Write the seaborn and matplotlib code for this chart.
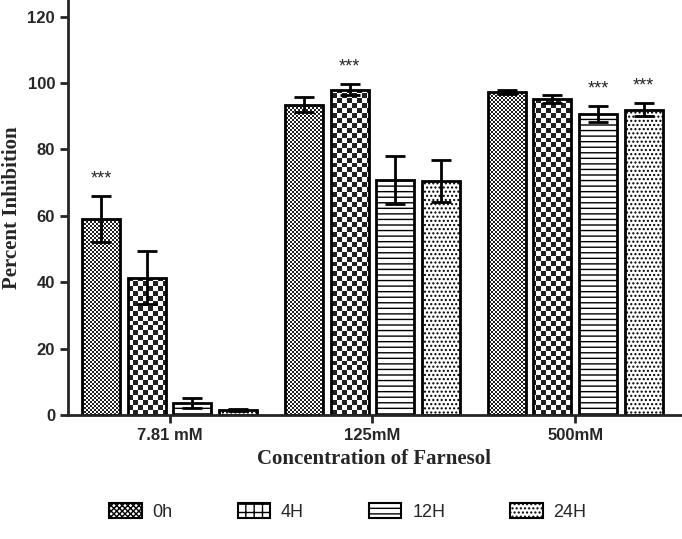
import numpy as np
import pandas as pd
import seaborn as sns
import matplotlib.pyplot as plt
from matplotlib.patches import Patch

# ----------------------------------------- data -----------------------------------------
concentrations = ['7.81 mM', '125mM', '500mM']
times = ['0h', '4H', '12H', '24H']
inhibition_0h = [59.0, 93.5, 97.3]
inhibition_4h = [41.3, 98.0, 95.2]
inhibition_12h = [3.6, 70.9, 90.7]
inhibition_24h = [1.5, 70.5, 92.0]
sem_0h = [7.0, 2.3, 0.5]
sem_4h = [8.0, 1.7, 1.3]
sem_12h = [1.6, 7.2, 2.4]
sem_24h = [0.3, 6.4, 2.0]
stars_0h = ['***', '', '']
stars_4h = ['', '***', '']
stars_12h = ['', '', '***']
stars_24h = ['', '', '***']

values = [inhibition_0h, inhibition_4h, inhibition_12h, inhibition_24h]
errors = [sem_0h, sem_4h, sem_12h, sem_24h]
stars = [stars_0h, stars_4h, stars_12h, stars_24h]

# fill style per time point: checkerboard cell size in px, or a hatch
checker_px = [2, 5, None, None]
hatches = ['', '', '---', '....']
legend_hatches = ['xxxxxx', '++', '---', '....']

df = pd.DataFrame({
    'conc': concentrations * len(times),
    'time': np.repeat(times, len(concentrations)),
    'value': sum(values, []),
})

sns.set_style('ticks')
plt.rcParams['hatch.linewidth'] = 1.0
plt.rcParams['font.family'] = ['Liberation Sans', 'DejaVu Sans']

fig = plt.figure(figsize=(6.82, 5.39), dpi=100)
ax = fig.add_axes([0.1, 0.23, 0.898, 0.77])

sns.barplot(data=df, x='conc', y='value', hue='time', order=concentrations, hue_order=times,
            palette=['white'] * 4, edgecolor='black', linewidth=2, width=0.9, gap=0.17,
            errorbar=None, legend=False, ax=ax)

ax.set_ylim(0, 125)
ax.set_xlim(-0.5, 2.52)

# checkerboard textures, one image per pattern clipped to each bar
ax_w = int(fig.get_figwidth() * fig.dpi * 0.898)
ax_h = int(fig.get_figheight() * fig.dpi * 0.77)


def checker(cell):
    ny, nx = ax_h // cell + 1, ax_w // cell + 1
    return (np.indices((ny, nx)).sum(axis=0) % 2).astype(float)


for container, hatch, cell, err, star in zip(ax.containers, hatches, checker_px, errors, stars):
    xs, ys = [], []
    for bar, s, e in zip(container, star, err):
        bar.set_hatch(hatch)
        if cell:
            bar.set_facecolor('none')
            img = ax.imshow(checker(cell), cmap='gray', vmin=-0.15, vmax=1, interpolation='nearest',
                            extent=(-0.5, 2.52, 0, 125), aspect='auto', zorder=0.5)
            img.set_clip_path(bar)
        x = bar.get_x() + bar.get_width() / 2
        y = bar.get_height()
        xs.append(x)
        ys.append(y)
        if s:
            ax.text(x, y + e + 2.5, s, ha='center', va='bottom', fontsize=13)
    ax.errorbar(xs, ys, yerr=err, fmt='none', ecolor='black', elinewidth=2, capsize=7, capthick=2)

ax.set_ylim(0, 125)
ax.set_xlim(-0.5, 2.52)
ax.set_yticks(range(0, 121, 20))
ax.tick_params(axis='both', width=2, length=6, labelsize=12)
for lab in ax.get_xticklabels() + ax.get_yticklabels():
    lab.set_fontweight('bold')
for side in ['left', 'bottom']:
    ax.spines[side].set_linewidth(2)
sns.despine(ax=ax)

ax.set_xlabel('Concentration of Farnesol', family='Liberation Serif', fontweight='bold', fontsize=15, labelpad=4)
ax.set_ylabel('Percent Inhibition', family='Liberation Serif', fontweight='bold', fontsize=15, labelpad=4)

handles = [Patch(facecolor='white', edgecolor='black', hatch=h, linewidth=1.5) for h in legend_hatches]
fig.legend(handles, times, loc='center', bbox_to_anchor=(0.51, 0.05), ncol=4, frameon=False,
           fontsize=13, columnspacing=3.6, handlelength=1.8, handleheight=0.9, handletextpad=0.6)

fig.savefig('out.png', dpi=100)
